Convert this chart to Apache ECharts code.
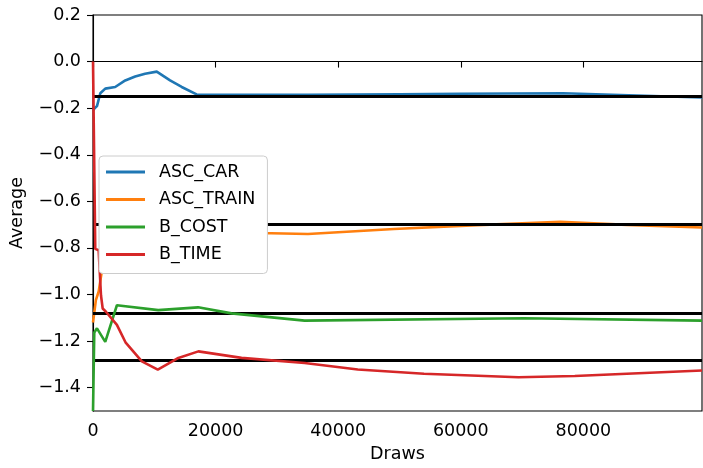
<!DOCTYPE html>
<html>
<head>
<meta charset="utf-8">
<script src="https://cdn.jsdelivr.net/npm/echarts@6/dist/echarts.min.js"></script>
<style>
  html, body { margin: 0; padding: 0; background: #ffffff; }
  #chart { width: 703px; height: 468px; }
</style>
</head>
<body>
<div id="chart"></div>
<script>
// Running average of each parameter as the number of draws grows
const carDraws = [0, 270, 650, 1190, 2000, 3620, 5260, 6880, 8500, 10400, 12570, 14470, 16900, 35100, 50000, 60000, 76700, 99350];
const carValues = [-0.21, -0.2, -0.191, -0.136, -0.116, -0.109, -0.081, -0.064, -0.052, -0.043, -0.081, -0.109, -0.141, -0.143, -0.140, -0.138, -0.136, -0.154];

const trainDraws = [0, 470, 930, 1460, 3000, 6000, 10000, 17000, 29100, 35070, 49100, 62700, 76260, 87100, 99350];
const trainValues = [-1.12, -1.024, -0.987, -0.896, -0.80, -0.76, -0.745, -0.735, -0.737, -0.740, -0.719, -0.702, -0.688, -0.701, -0.712];

const costDraws = [0, 210, 650, 2000, 3900, 10640, 17140, 22600, 34520, 70300, 99350];
const costValues = [-1.5, -1.163, -1.145, -1.203, -1.046, -1.067, -1.055, -1.081, -1.112, -1.102, -1.112];

const timeDraws = [0, 370, 920, 1300, 1580, 2110, 3900, 5300, 7970, 10570, 13930, 17190, 24230, 34520, 43200, 54000, 69400, 78600, 99350];
const timeValues = [0.0, -0.804, -0.81, -1.003, -1.06, -1.074, -1.13, -1.205, -1.287, -1.322, -1.272, -1.244, -1.272, -1.294, -1.322, -1.340, -1.355, -1.35, -1.326];

// Final estimates drawn as horizontal reference lines
const estimates = [-0.155, -0.701, -1.08, -1.28];

const seriesNames = ['ASC_CAR', 'ASC_TRAIN', 'B_COST', 'B_TIME'];
const seriesColors = ['#1f77b4', '#ff7f0e', '#2ca02c', '#d62728'];
const yTicks = [-1.4, -1.2, -1.0, -0.8, -0.6, -0.4, -0.2, 0.0, 0.2];

const FONT = 'DejaVu Sans';
const FS = 17.5;

const pairs = (xs, ys) => xs.map((x, i) => [x, ys[i]]);
const allDraws = [carDraws, trainDraws, costDraws, timeDraws];
const allValues = [carValues, trainValues, costValues, timeValues];

const lineSeries = seriesNames.map((name, i) => ({
  name: name,
  type: 'line',
  data: pairs(allDraws[i], allValues[i]),
  showSymbol: false,
  symbol: 'none',
  lineStyle: { color: seriesColors[i], width: 2.6 },
  itemStyle: { color: seriesColors[i] },
  z: 3 + i,
  animation: false
}));

const refSeries = {
  name: 'estimates',
  type: 'line',
  data: [],
  z: 2,
  animation: false,
  markLine: {
    silent: true,
    symbol: ['none', 'none'],
    label: { show: false },
    lineStyle: { color: '#000000', width: 3, type: 'solid' },
    data: estimates.map(v => ({ yAxis: v })),
    animation: false
  }
};

const fmt = v => (v < -1e-9 ? '\u2212' : '') + Math.abs(v).toFixed(1);

const chart = echarts.init(document.getElementById('chart'), null, { renderer: 'canvas' });
chart.setOption({
  backgroundColor: '#ffffff',
  animation: false,
  textStyle: { fontFamily: FONT },
  grid: {
    left: 91, right: 1, top: 15, bottom: 53.5,
    show: true, borderColor: '#000000', borderWidth: 1.1, backgroundColor: 'transparent'
  },
  legend: {
    data: seriesNames,
    orient: 'vertical',
    left: 99, top: 156,
    icon: 'rect',
    itemWidth: 39, itemHeight: 3,
    itemGap: 9.5,
    padding: [7, 12, 10, 7],
    backgroundColor: '#ffffff',
    borderColor: '#cccccc',
    borderWidth: 1,
    borderRadius: 4,
    textStyle: { fontFamily: FONT, fontSize: FS, color: '#000000', padding: [0, 0, 0, 9] },
    zlevel: 1,
    z: 10
  },
  xAxis: {
    type: 'value',
    min: 0,
    max: 99350,
    interval: 20000,
    name: 'Draws',
    nameLocation: 'middle',
    nameGap: 34,
    nameTextStyle: { fontFamily: FONT, fontSize: FS, color: '#000000' },
    axisLine: { show: true, lineStyle: { color: '#000000', width: 1.1 } },
    axisTick: { show: true, length: 6, lineStyle: { color: '#000000', width: 1.1 } },
    axisLabel: { fontFamily: FONT, fontSize: FS, color: '#000000', margin: 11, formatter: v => String(v), showMaxLabel: false },
    splitLine: { show: false }
  },
  yAxis: {
    type: 'value',
    min: -1.5,
    max: 0.2,
    name: 'Average',
    nameLocation: 'middle',
    nameGap: 67,
    nameTextStyle: { fontFamily: FONT, fontSize: FS, color: '#000000' },
    axisLine: { show: true, lineStyle: { color: '#000000', width: 1.1 } },
    axisTick: { show: true, length: 6, customValues: yTicks, lineStyle: { color: '#000000', width: 1.1 } },
    axisLabel: { fontFamily: FONT, fontSize: FS, color: '#000000', margin: 12, customValues: yTicks, formatter: fmt },
    splitLine: { show: false }
  },
  series: [refSeries].concat(lineSeries)
});
</script>
</body>
</html>
